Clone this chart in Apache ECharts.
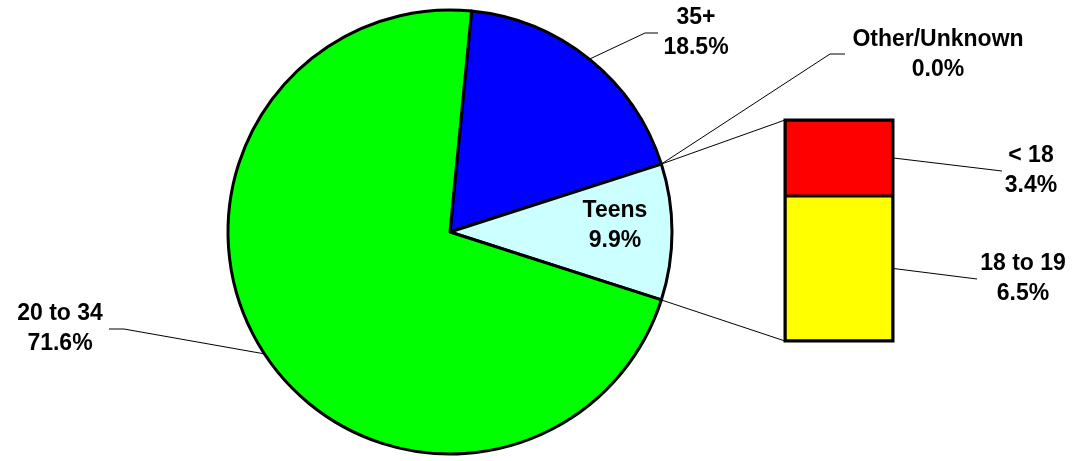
<!DOCTYPE html>
<html>
<head>
<meta charset="utf-8">
<script src="https://cdn.jsdelivr.net/npm/echarts@6/dist/echarts.min.js"></script>
<style>html,body{margin:0;padding:0;background:#fff}#c{width:1076px;height:461px}</style>
</head>
<body>
<div id="c"></div>
<script>
const categories = ['35+', 'Other/Unknown', 'Teens', '20 to 34'];
const pieValues = [18.5, 0.0, 9.9, 71.6];
const pieColors = ['#0000FF', '#FF00FF', '#CCFFFF', '#00FF00'];
const teenCategories = ['18 to 19', '< 18'];
const teenValues = [6.5, 3.4];
const teenColors = ['#FFFF00', '#FF0000'];

const FONT = 'Liberation Sans, Arial, sans-serif';
const center = [450, 232];
const radius = 222;
const total = pieValues.reduce((a, b) => a + b, 0);
const teenTotal = teenValues.reduce((a, b) => a + b, 0);
const teensIdx = categories.indexOf('Teens');
const before = pieValues.slice(0, teensIdx).reduce((a, b) => a + b, 0);
const startAngle = (before + pieValues[teensIdx] / 2) / total * 360;
const teensTop = startAngle - before / total * 360;
const teensBottom = teensTop - pieValues[teensIdx] / total * 360;

const pieLabelCfg = {
  '35+': { x: 696, y: 33, line: [[645, 33], [658, 33]] },
  'Other/Unknown': { x: 938, y: 55, line: [[830, 54], [845, 54]] },
  'Teens': { x: 615, y: 226 },
  '20 to 34': { x: 60, y: 329, line: [[124, 329], [109, 329]] }
};
const barLabelCfg = {
  '< 18': { x: 1031, y: 171, end: [1002, 171] },
  '18 to 19': { x: 1023, y: 279, end: [977, 279] }
};

const gridLeft = 785, gridTop = 120, gridW = 108, gridH = 221;

const labelStyle = {
  show: true,
  fontFamily: FONT,
  fontWeight: 'bold',
  fontSize: 23,
  lineHeight: 30,
  color: '#000',
  align: 'center',
  formatter: p => p.name + '\n' + Number(p.value).toFixed(1) + '%'
};

const chart = echarts.init(document.getElementById('c'), null, { renderer: 'canvas' });

const option = {
  animation: false,
  backgroundColor: '#fff',
  grid: { left: gridLeft, top: gridTop, width: gridW, height: gridH },
  xAxis: { type: 'category', data: ['Teens'], show: false },
  yAxis: { type: 'value', min: 0, max: teenTotal, show: false },
  series: [
    {
      type: 'pie',
      center: center,
      radius: radius,
      startAngle: startAngle,
      clockwise: true,
      avoidLabelOverlap: false,
      itemStyle: { borderColor: '#000', borderWidth: 3 },
      label: Object.assign({}, labelStyle, { position: 'outside' }),
      labelLine: { show: true, lineStyle: { color: '#000', width: 1 } },
      emphasis: { disabled: true },
      data: categories.map((c, i) => ({
        name: c,
        value: pieValues[i],
        itemStyle: { color: pieColors[i] },
        labelLine: { show: c !== 'Teens' }
      })),
      labelLayout: function (params) {
        const cfg = pieLabelCfg[categories[params.dataIndex]];
        const res = { x: cfg.x, y: cfg.y, align: 'center', verticalAlign: 'middle' };
        if (cfg.line && params.labelLinePoints) {
          res.labelLinePoints = [params.labelLinePoints[0], cfg.line[0], cfg.line[1]];
        }
        return res;
      }
    }
  ].concat(teenCategories.map((c, i) => ({
    type: 'bar',
    name: c,
    stack: 'teens',
    barWidth: '100%',
    itemStyle: { color: teenColors[i], borderColor: '#000', borderWidth: 1.5 },
    label: Object.assign({}, labelStyle, {
      position: 'right',
      formatter: p => c + '\n' + Number(p.value).toFixed(1) + '%'
    }),
    emphasis: { disabled: true },
    data: [teenValues[i]],
    labelLayout: function () {
      const cfg = barLabelCfg[c];
      return { x: cfg.x, y: cfg.y, align: 'center', verticalAlign: 'middle' };
    }
  })))
};
chart.setOption(option);

function edge(angleDeg) {
  const a = angleDeg * Math.PI / 180;
  return [center[0] + radius * Math.cos(a), center[1] - radius * Math.sin(a)];
}
const yTop = chart.convertToPixel({ yAxisIndex: 0 }, teenTotal);
const yBot = chart.convertToPixel({ yAxisIndex: 0 }, 0);
const pTop = edge(teensTop), pBot = edge(teensBottom);
const lineStyle = { stroke: '#000', lineWidth: 1 };
const graphics = [
  { type: 'line', shape: { x1: pTop[0], y1: pTop[1], x2: gridLeft, y2: yTop }, style: lineStyle, z: 10 },
  { type: 'line', shape: { x1: pBot[0], y1: pBot[1], x2: gridLeft, y2: yBot }, style: lineStyle, z: 10 },
  { type: 'rect', shape: { x: gridLeft, y: yTop, width: gridW, height: yBot - yTop }, style: { fill: null, stroke: '#000', lineWidth: 3 }, z: 10 }
];
let acc = 0;
teenCategories.forEach((c, i) => {
  const midY = chart.convertToPixel({ yAxisIndex: 0 }, acc + teenValues[i] / 2);
  acc += teenValues[i];
  const cfg = barLabelCfg[c];
  graphics.push({ type: 'line', shape: { x1: gridLeft + gridW, y1: midY, x2: cfg.end[0], y2: cfg.end[1] }, style: lineStyle, z: 10 });
});
chart.setOption({ graphic: graphics });
</script>
</body>
</html>
